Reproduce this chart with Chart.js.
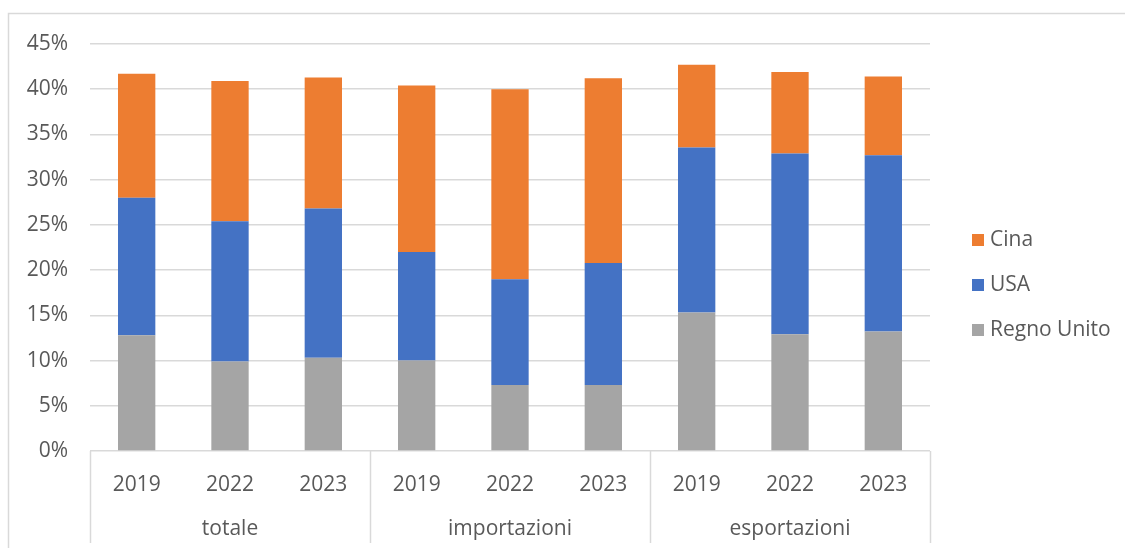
<!DOCTYPE html>
<html>
<head>
<meta charset="utf-8">
<script src="https://cdn.jsdelivr.net/npm/chart.js@4.4.1/dist/chart.umd.min.js"></script>
<style>
    html, body { margin: 0; padding: 0; background: #fff; }
    #wrap { width: 1125px; height: 548px; position: relative; }
</style>
</head>
<body>
<div id="wrap"><canvas id="quoteChart" width="1125" height="548"></canvas></div>
<script>
// Quote (%) di Regno Unito, USA e Cina - totale / importazioni / esportazioni
const anni = ['2019', '2022', '2023', '2019', '2022', '2023', '2019', '2022', '2023'];
const gruppi = ['totale', 'importazioni', 'esportazioni'];
const regnoUnito = [12.8, 9.9, 10.3, 10.0, 7.3, 7.3, 15.3, 12.9, 13.2];
const usa = [15.2, 15.5, 16.5, 12.0, 11.7, 13.5, 18.25, 20.0, 19.5];
const cina = [13.7, 15.5, 14.5, 18.4, 21.0, 20.4, 9.15, 9.0, 8.7];
const yTicks = [0, 5, 10, 15, 20, 25, 30, 35, 40, 45];

const FONT = '"Open Sans", "Noto Sans", sans-serif';
const TEXT = '#595959';
const LINE = '#d9d9d9';

// cornice esterna, separatori dei gruppi, etichette dei gruppi e legenda
const decorPlugin = {
    id: 'decor',
    beforeDraw(chart) {
        const ctx = chart.ctx;
        ctx.save();
        ctx.strokeStyle = LINE;
        ctx.lineWidth = 1.5;
        ctx.strokeRect(8.5, 13.5, 1130, 560);
        ctx.restore();
    },
    afterDraw(chart) {
        const ctx = chart.ctx;
        const x = chart.scales.x;
        const area = chart.chartArea;
        const step = x.getPixelForValue(1) - x.getPixelForValue(0);
        ctx.save();
        ctx.strokeStyle = LINE;
        ctx.lineWidth = 1.5;
        for (let g = 0; g <= gruppi.length; g++) {
            const px = Math.round(x.getPixelForValue(g * 3) - step / 2) + 0.5;
            ctx.beginPath();
            ctx.moveTo(px, area.bottom);
            ctx.lineTo(px, 543);
            ctx.stroke();
        }
        ctx.fillStyle = TEXT;
        ctx.font = '21px ' + FONT;
        ctx.textAlign = 'center';
        ctx.textBaseline = 'middle';
        gruppi.forEach((g, i) => {
            ctx.fillText(g, x.getPixelForValue(i * 3 + 1), 529);
        });

        // legenda (ordine inverso, Cina in alto)
        const sets = chart.data.datasets.slice().reverse();
        ctx.textAlign = 'left';
        sets.forEach((ds, i) => {
            const cy = 240 + i * 45;
            ctx.fillStyle = ds.backgroundColor;
            ctx.fillRect(972, cy - 6, 12, 12);
            ctx.fillStyle = TEXT;
            ctx.fillText(ds.label, 990, cy);
        });
        ctx.restore();
    }
};

new Chart(document.getElementById('quoteChart').getContext('2d'), {
    type: 'bar',
    data: {
        labels: anni,
        datasets: [
            { label: 'Regno Unito', data: regnoUnito, backgroundColor: '#A5A5A5' },
            { label: 'USA', data: usa, backgroundColor: '#4472C4' },
            { label: 'Cina', data: cina, backgroundColor: '#ED7D31' }
        ]
    },
    options: {
        responsive: false,
        animation: false,
        datasets: { bar: { barPercentage: 0.4, categoryPercentage: 1, borderWidth: 0 } },
        layout: { padding: { top: 44, right: 195, left: 0, bottom: 0 } },
        plugins: {
            legend: { display: false },
            tooltip: { enabled: false }
        },
        scales: {
            x: {
                stacked: true,
                grid: { display: false },
                border: { display: false },
                ticks: {
                    color: TEXT,
                    font: { family: FONT, size: 21 },
                    padding: 13,
                    maxRotation: 0,
                    autoSkip: false
                },
                afterFit(scale) { scale.height = 97; }
            },
            y: {
                stacked: true,
                min: 0,
                max: 45,
                afterBuildTicks(scale) {
                    scale.ticks = yTicks.map(v => ({ value: v }));
                },
                grid: { color: LINE, lineWidth: 1.5, drawTicks: false },
                border: { display: false },
                ticks: {
                    color: TEXT,
                    font: { family: FONT, size: 21 },
                    padding: 22,
                    callback: v => v + '%'
                },
                afterFit(scale) { scale.width = 90; }
            }
        }
    },
    plugins: [decorPlugin]
});
</script>
</body>
</html>
